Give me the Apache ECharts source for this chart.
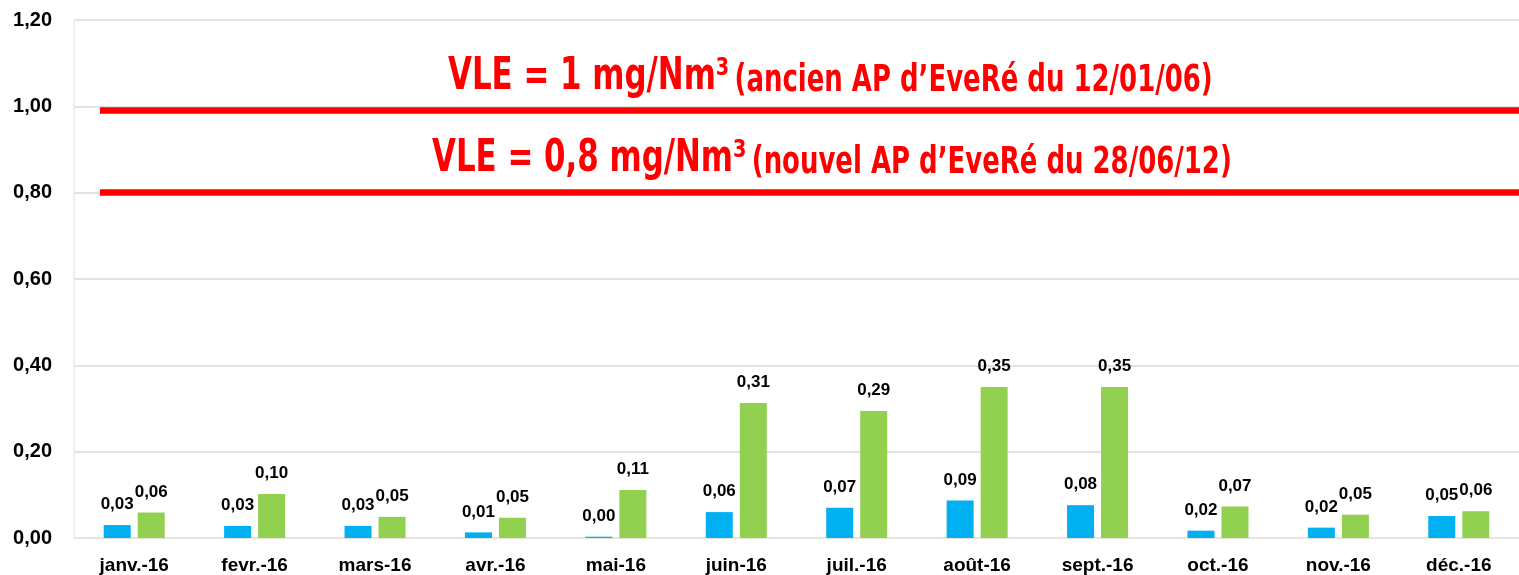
<!DOCTYPE html>
<html>
<head>
<meta charset="utf-8">
<title>VLE</title>
<style>
  html, body { margin: 0; padding: 0; background: #fff; }
  #chart { width: 1519px; height: 575px; }
</style>
</head>
<body>
<div id="chart"></div>
<script src="https://cdn.jsdelivr.net/npm/echarts@6/dist/echarts.min.js"></script>
<script>
// mois
var categories = ['janv.-16', 'fevr.-16', 'mars-16', 'avr.-16', 'mai-16', 'juin-16',
  'juil.-16', 'août-16', 'sept.-16', 'oct.-16', 'nov.-16', 'déc.-16'];
// série bleue
var blueValues = [0.030, 0.028, 0.028, 0.013, 0.003, 0.060, 0.070, 0.087, 0.076, 0.017, 0.024, 0.051];
// série verte
var greenValues = [0.059, 0.102, 0.049, 0.047, 0.111, 0.313, 0.294, 0.350, 0.350, 0.073, 0.054, 0.062];
// seuils VLE
var limitOld = 0.99;
var limitNew = 0.80;

var fr = function (v) { return Number(v).toFixed(2).replace('.', ','); };
var fontFam = '"Liberation Sans", Arial, sans-serif';
var titleFam = '"DejaVu Sans Condensed", "DejaVu Sans", sans-serif';

var labelStyle = {
  show: true,
  position: 'top',
  distance: 12,
  color: '#000',
  fontFamily: fontFam,
  fontWeight: 'bold',
  fontSize: 17,
  formatter: function (p) { return fr(p.value); }
};

var redLine = function (v) {
  return [{ coord: [0, v], x: 100 }, { coord: [11, v], x: '100%' }];
};

var titleRich = {
  a: { fontFamily: titleFam, fontWeight: 'bold', fontSize: 44, fill: '#ff0000', verticalAlign: 'bottom' },
  b: { fontFamily: titleFam, fontWeight: 'bold', fontSize: 37, fill: '#ff0000', verticalAlign: 'bottom' }
};

var vleText = function (x, y, big, small) {
  return {
    type: 'text', x: x, y: y, scaleX: 0.78, silent: true, z: 10,
    style: { text: '{a|' + big + '}  {b|' + small + '}', rich: titleRich, align: 'left', verticalAlign: 'top' }
  };
};

var chart = echarts.init(document.getElementById('chart'));
chart.setOption({
  animation: false,
  backgroundColor: '#fff',
  graphic: [
    vleText(448, 56, 'VLE = 1 mg/Nm³', '(ancien AP d’EveRé du 12/01/06)'),
    vleText(432, 138, 'VLE = 0,8 mg/Nm³', '(nouvel AP d’EveRé du 28/06/12)')
  ],
  grid: { left: 74, right: 0, top: 20, bottom: 37, containLabel: false },
  xAxis: {
    type: 'category',
    data: categories,
    axisTick: { show: false },
    axisLine: { lineStyle: { color: '#e8e5da', width: 2 } },
    axisLabel: { margin: 18, color: '#000', fontFamily: fontFam, fontWeight: 'bold', fontSize: 19 }
  },
  yAxis: {
    type: 'value',
    min: 0, max: 1.2, interval: 0.2,
    axisLine: { show: true, lineStyle: { color: '#eeece1', width: 1.5 } },
    axisTick: { show: false },
    splitLine: { lineStyle: { color: '#d9d9d9', width: 1.5 } },
    axisLabel: { margin: 22, color: '#000', fontFamily: fontFam, fontWeight: 'bold', fontSize: 20, formatter: fr }
  },
  series: [{
    type: 'bar',
    data: blueValues,
    barWidth: 27,
    barGap: '26%',
    itemStyle: { color: '#00b0f0' },
    label: labelStyle,
    markLine: {
      silent: true,
      symbol: 'none',
      label: { show: false },
      lineStyle: { color: '#ff0000', width: 6.5, type: 'solid' },
      data: [redLine(limitOld), redLine(limitNew)]
    }
  }, {
    type: 'bar',
    data: greenValues,
    barWidth: 27,
    itemStyle: { color: '#92d050' },
    label: labelStyle
  }]
});
</script>
</body>
</html>
